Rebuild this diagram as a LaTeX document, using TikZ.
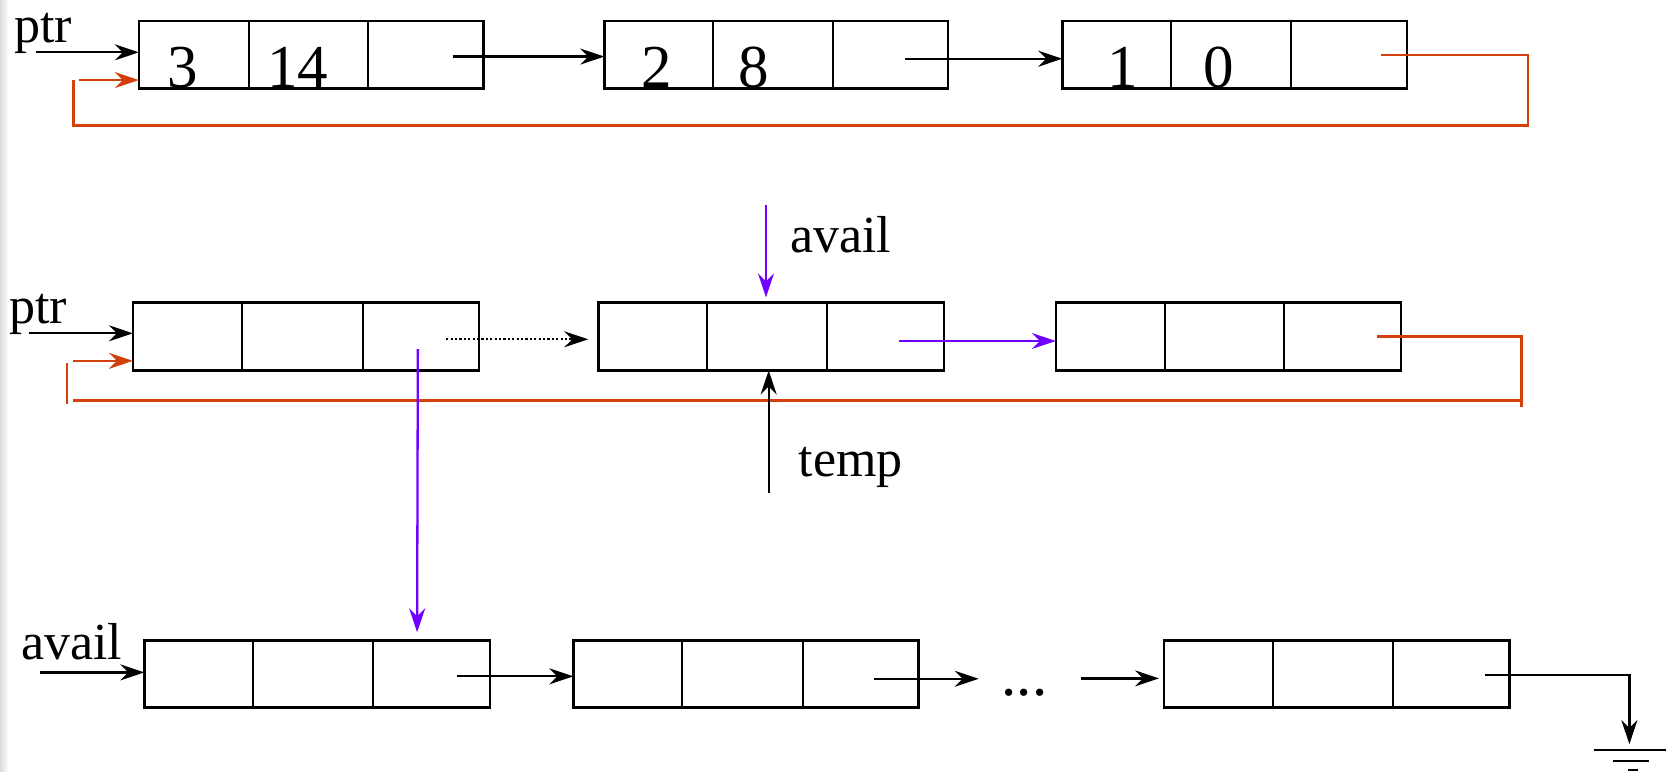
\documentclass[tikz,border=0pt]{standalone}
\usepackage{fontspec}
\setmainfont{Liberation Serif}
\usetikzlibrary{arrows.meta,fit,calc}
\definecolor{lred}{HTML}{D2400C}
\definecolor{lpurple}{HTML}{7000FF}
\tikzset{
 cell/.style={draw=black, line width=2.5pt, inner sep=0pt, outer sep=0pt},
 divider/.style={line width=2.3pt},
 tip/.style={-{Stealth[length=24pt,width=16pt,inset=8pt]}},
 arr/.style={draw=black, line width=2.3pt, tip},
 redline/.style={draw=lred, line width=2.4pt},
 redarr/.style={redline, tip},
 purarr/.style={draw=lpurple, line width=2.3pt, tip},
 dotarr/.style={draw=black, line width=2.2pt, dash pattern=on 2.2pt off 2.2pt, -{Stealth[length=24pt,width=16pt,inset=8pt]}},
 lbl/.style={font=\fontsize{52}{60}\selectfont, inner sep=0pt, anchor=base west},
 num/.style={font=\fontsize{61}{70}\selectfont, inner sep=0pt, anchor=base},
}
\newcommand{\lnkbox}[7]{%
  \node[cell, fit={(#2,#3) (#4,#5)}] (#1) {};
  \draw[divider] (#6,#3) -- (#6,#5);
  \draw[divider] (#7,#3) -- (#7,#5);}
\begin{document}
\begin{tikzpicture}[x=1.0676pt, y=-1.0676pt]
\useasboundingbox (0,0) rectangle (1568,723);
\shade[left color=black!14, right color=white] (0,0) rectangle (8,723);

% ---------- row 1 ----------
\lnkbox{ra}{130}{19.5}{453}{83}{233}{345}
\lnkbox{rb}{566}{19.5}{888}{83}{668}{780}
\lnkbox{rc}{995}{19.5}{1318}{83}{1097}{1209}
\node[num] (n3) at (171,82) {3};
\node[num] (n14) at (279,82) {14};
\node[num] (n2) at (615,82) {2};
\node[num] (n8) at (706,82) {8};
\node[num] (n1) at (1052,82) {1};
\node[num] (n0) at (1142,82) {0};
\node[lbl] (ptra) at (13,40) {ptr};
\coordinate (pa) at (33.5,49);
\draw[arr] (pa) -- (pa -| ra.west);
\coordinate (qa) at (424,53);
\draw[arr] (qa) -- (qa -| rb.west);
\coordinate (qb) at (848,55);
\draw[arr] (qb) -- (qb -| rc.west);
\coordinate (ra1) at (1294,51.5);
\coordinate (ra2) at (1431,51.5);
\coordinate (ra3) at (1431,117.7);
\coordinate (ra4) at (69,117.7);
\coordinate (ra5) at (69,75);
\draw[redline] (ra1) -- (ra2) -- (ra3) -- (ra4) -- (ra5);
\coordinate (ra6) at (73.6,75);
\draw[redarr] (ra6) -- (ra6 -| ra.west);

% ---------- row 2 ----------
\lnkbox{sa}{124.5}{283.5}{448.6}{347}{227}{340}
\lnkbox{sb}{560.4}{283.5}{884}{347}{662.5}{774.7}
\lnkbox{sc}{989}{283.5}{1312.3}{347}{1091}{1203}
\node[lbl] (ptrb) at (8.4,302.8) {ptr};
\coordinate (pb) at (26.8,312.2);
\draw[arr] (pb) -- (pb -| sa.west);
\coordinate (rb6) at (68.6,338);
\draw[redarr] (rb6) -- (rb6 -| sa.west);
\coordinate (rv1) at (62.6,340);
\coordinate (rv2) at (62.6,378.4);
\draw[redline] (rv1) -- (rv2);
\coordinate (rb1) at (1289.4,315.3);
\coordinate (rb2) at (1425,315.3);
\coordinate (rb3) at (1425,381);
\draw[redline] (rb1) -- (rb2) -- (rb3);
\coordinate (rh1) at (68.6,375.2);
\coordinate (rh2) at (1425,375.2);
\draw[redline] (rh1) -- (rh2);
\coordinate (da) at (418,317.8);
\coordinate (db) at (551,317.8);
\draw[dotarr] (da) -- (db);
\coordinate (pu1) at (841.7,319.4);
\draw[purarr] (pu1) -- (pu1 -| sc.west);
\node[lbl] (availa) at (740,236.7) {avail};
\coordinate (av1) at (717.5,192);
\coordinate (av2) at (717.5,278.5);
\draw[purarr] (av1) -- (av2);
\node[lbl] (temp) at (748,446.5) {temp};
\coordinate (tp1) at (720,462);
\draw[arr] (tp1) -- (tp1 |- sb.south);

% ---------- row 3 ----------
\lnkbox{ta}{135.2}{599.8}{458.9}{662.9}{237.3}{349.5}
\lnkbox{tb}{537}{599.8}{860.2}{662.9}{639}{752}
\lnkbox{tc}{1090.5}{599.8}{1413.9}{662.9}{1192.4}{1304.6}
\node[lbl] (availb) at (19.7,617.6) {avail};
\coordinate (pc) at (37.6,629.8);
\draw[arr] (pc) -- (pc -| ta.west);
\coordinate (pv1) at (391.4,327);
\coordinate (pv2) at (390.7,592.3);
\draw[purarr] (pv1) -- (pv2);
\coordinate (qc) at (428.4,633.5);
\draw[arr] (qc) -- (qc -| tb.west);
\node[num, anchor=base west] (dots) at (938,651) {...};
\coordinate (qd) at (818.3,635.8);
\draw[arr] (qd) -- (916.7,635.8);
\coordinate (qe) at (1012.8,635.4);
\coordinate (qf) at (1085.6,635.4);
\draw[arr] (qe) -- (qf);
\coordinate (g1) at (1390.8,632);
\coordinate (g2) at (1526.2,632);
\coordinate (g3) at (1526.2,697);
\draw[arr] (g1) -- (g2) -- (g3);
\draw[line width=2.3pt] (1492.7,702.6) -- (1560.6,702.6);
\draw[line width=2.3pt] (1511,712.5) -- (1544.4,712.5);
\draw[line width=2.3pt] (1524.7,721.5) -- (1534.5,721.5);
\end{tikzpicture}
\end{document}
